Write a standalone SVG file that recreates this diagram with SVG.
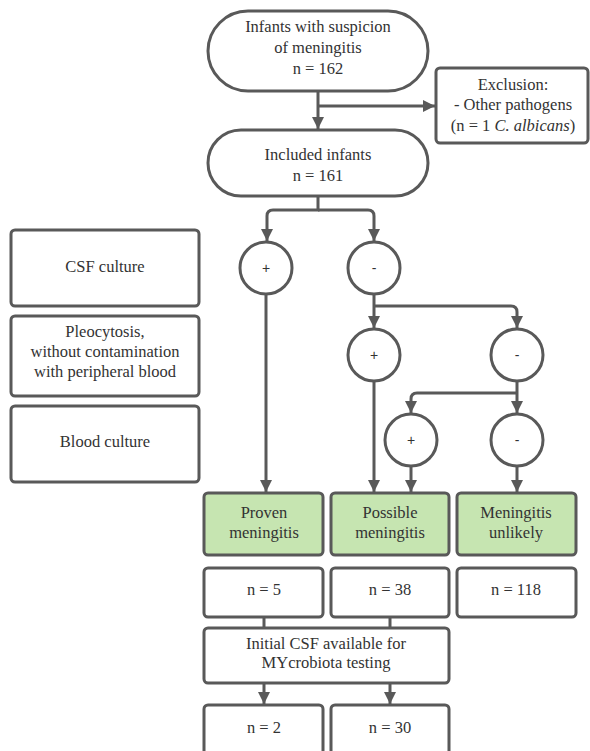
<svg xmlns="http://www.w3.org/2000/svg" width="590" height="751" viewBox="0 0 590 751">
<style>
.n{fill:#fff;stroke:#595959;stroke-width:3}
.g{fill:#c6e5b1;stroke:#595959;stroke-width:3}
.t{font-family:'Liberation Serif','DejaVu Serif',serif;font-size:16.5px;fill:#333;text-anchor:middle}
.s{font-family:'Liberation Sans',Arial,sans-serif;font-size:14px;fill:#333;text-anchor:middle}
.c{fill:none;stroke:#595959;stroke-width:3}
</style>
<defs>
<marker id="ah" viewBox="0 0 12 12" refX="12" refY="6" markerWidth="12" markerHeight="12" markerUnits="userSpaceOnUse" orient="auto">
<path d="M0,0 L12,6 L0,12 z" fill="#595959"/>
</marker>
</defs>
<rect width="590" height="751" fill="#fff"/>
<g id="connectors">
<path class="c" d="M318,91 V129" marker-end="url(#ah)"/>
<path class="c" d="M318,106 H435" marker-end="url(#ah)"/>
<path class="c" d="M318,196 V210 H273 Q267,210 267,216 V241" marker-end="url(#ah)"/>
<path class="c" d="M318,210 H368 Q374,210 374,216 V241" marker-end="url(#ah)"/>
<path class="c" d="M266,294 V492" marker-end="url(#ah)"/>
<path class="c" d="M374,294 V328" marker-end="url(#ah)"/>
<path class="c" d="M374,306 H511 Q517,306 517,312 V328" marker-end="url(#ah)"/>
<path class="c" d="M374,381 V492" marker-end="url(#ah)"/>
<path class="c" d="M517,381 V413" marker-end="url(#ah)"/>
<path class="c" d="M517,393 H417 Q411,393 411,399 V413" marker-end="url(#ah)"/>
<path class="c" d="M411,466 V492" marker-end="url(#ah)"/>
<path class="c" d="M517,466 V492" marker-end="url(#ah)"/>
<path class="c" d="M264,617 V628"/>
<path class="c" d="M390,617 V628"/>
<path class="c" d="M264,683 V704" marker-end="url(#ah)"/>
<path class="c" d="M390,683 V704" marker-end="url(#ah)"/>
</g>
<g id="start">
<rect class="n" x="208" y="11" width="220" height="80" rx="40"/>
<text class="t" x="318" y="32">Infants with suspicion</text>
<text class="t" x="318" y="53">of meningitis</text>
<text class="t" x="318" y="74">n = 162</text>
</g>
<g id="exclusion">
<rect class="n" x="436" y="68" width="152" height="75" rx="4"/>
<text class="t" x="513" y="90">Exclusion:</text>
<text class="t" x="513" y="110">- Other pathogens</text>
<text class="t" x="513" y="131">(n = 1 <tspan font-style="italic">C. albicans</tspan>)</text>
</g>
<g id="included">
<rect class="n" x="208" y="130" width="220" height="66" rx="33"/>
<text class="t" x="318" y="160">Included infants</text>
<text class="t" x="318" y="181">n = 161</text>
</g>
<g id="csf-label">
<rect class="n" x="11" y="230" width="188" height="76" rx="4"/>
<text class="t" x="105" y="272">CSF culture</text>
</g>
<g id="pleo-label">
<rect class="n" x="11" y="316" width="188" height="80" rx="4"/>
<text class="t" x="105" y="337">Pleocytosis,</text>
<text class="t" x="105" y="357">without contamination</text>
<text class="t" x="105" y="377">with peripheral blood</text>
</g>
<g id="blood-label">
<rect class="n" x="11" y="406" width="188" height="76" rx="4"/>
<text class="t" x="105" y="447">Blood culture</text>
</g>
<g id="c1"><circle class="n" cx="266" cy="268" r="26"/><text class="s" x="266" y="273">+</text></g>
<g id="c2"><circle class="n" cx="374" cy="268" r="26"/><text class="s" x="374" y="273">-</text></g>
<g id="c3"><circle class="n" cx="374" cy="355" r="26"/><text class="s" x="374" y="360">+</text></g>
<g id="c4"><circle class="n" cx="517" cy="355" r="26"/><text class="s" x="517" y="360">-</text></g>
<g id="c5"><circle class="n" cx="411" cy="440" r="26"/><text class="s" x="411" y="445">+</text></g>
<g id="c6"><circle class="n" cx="517" cy="440" r="26"/><text class="s" x="517" y="445">-</text></g>
<g id="proven">
<rect class="g" x="204" y="493" width="119" height="62" rx="4"/>
<text class="t" x="264" y="518">Proven</text>
<text class="t" x="264" y="538">meningitis</text>
</g>
<g id="possible">
<rect class="g" x="331" y="493" width="118" height="62" rx="4"/>
<text class="t" x="390" y="518">Possible</text>
<text class="t" x="390" y="538">meningitis</text>
</g>
<g id="unlikely">
<rect class="g" x="457" y="493" width="119" height="62" rx="4"/>
<text class="t" x="516" y="518">Meningitis</text>
<text class="t" x="516" y="538">unlikely</text>
</g>
<g id="n5"><rect class="n" x="204" y="568" width="119" height="49" rx="4"/><text class="t" x="264" y="595">n = 5</text></g>
<g id="n38"><rect class="n" x="331" y="568" width="118" height="49" rx="4"/><text class="t" x="390" y="595">n = 38</text></g>
<g id="n118"><rect class="n" x="457" y="568" width="119" height="49" rx="4"/><text class="t" x="516" y="595">n = 118</text></g>
<g id="initial">
<rect class="n" x="204" y="628" width="245" height="55" rx="4"/>
<text class="t" x="326" y="649">Initial CSF available for</text>
<text class="t" x="326" y="668">MYcrobiota testing</text>
</g>
<g id="n2"><rect class="n" x="204" y="705" width="119" height="55" rx="4"/><text class="t" x="264" y="733">n = 2</text></g>
<g id="n30"><rect class="n" x="331" y="705" width="118" height="55" rx="4"/><text class="t" x="390" y="733">n = 30</text></g>
</svg>
